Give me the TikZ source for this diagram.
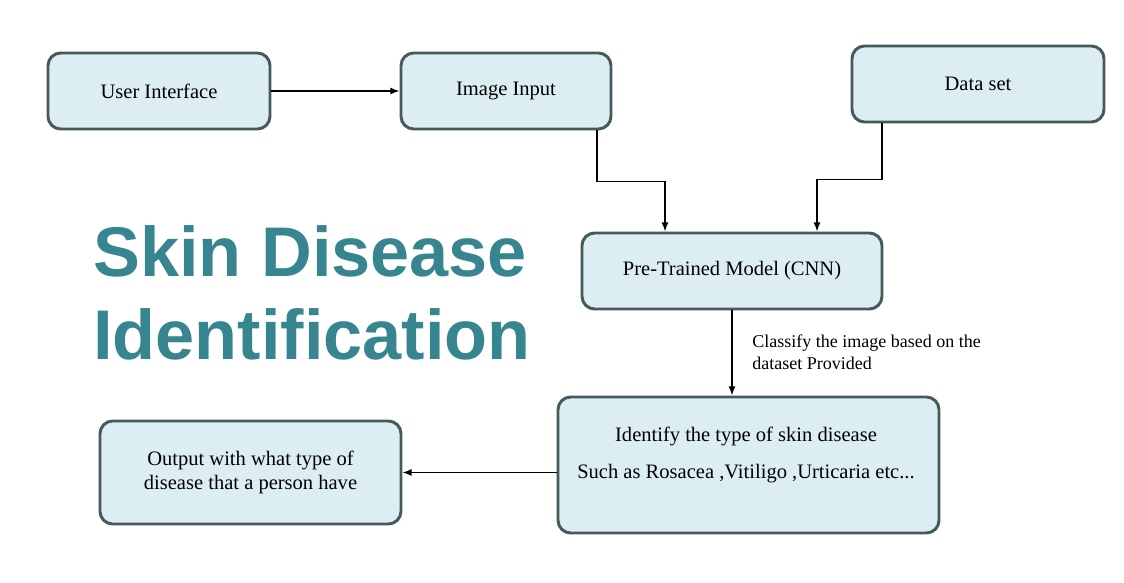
\documentclass[tikz,border=0pt]{standalone}
\usepackage{fontspec}
\setmainfont{Liberation Serif}
\newfontfamily\titlefont{Liberation Sans}
\usetikzlibrary{arrows.meta, positioning, calc}
\definecolor{boxFill}{HTML}{DCEEF1}
\definecolor{boxLine}{HTML}{465A5E}
\definecolor{titleTeal}{HTML}{37858F}

\begin{document}
\begin{tikzpicture}[x=0.025cm, y=-0.025cm,
    box/.style 2 args={draw=boxLine, fill=boxFill, line width=2.1pt, rounded corners=9pt,
        minimum width=#1*0.025cm, minimum height=#2*0.025cm, align=center,
        font=\fontsize{14.6}{17.6}\selectfont},
    arr/.style={line width=1pt, -{Latex[length=6.5pt, width=5pt]}}]
    \useasboundingbox (0,0) rectangle (1124,583);

    % top row
    \node[box={222}{76}] (ui) at (159, 91) {User Interface};
    \node[box={210}{76}] (img) at (506, 91) {Image Input};
    \node[box={252}{76}] (data) at (978, 84) {Data set};

    % model and result
    \node[box={300}{76}] (cnn) at (732, 271) {Pre-Trained Model (CNN)};
    \node[box={381}{136}] (idf) at (748.5, 465) {};
    \node[align=center, font=\fontsize{14.6}{17.6}\selectfont] (idftxt) at (746, 455)
        {Identify the type of skin disease\\[8.5pt]Such as Rosacea ,Vitiligo ,Urticaria etc...};
    \node[box={301}{103}] (out) at (250.5, 472.5) {Output with what type of\\disease that a person have};

    % title
    \node[anchor=west, inner sep=0pt, align=left, text=titleTeal,
        font=\titlefont\bfseries\fontsize{50}{59}\selectfont] (title) at (93, 293)
        {Skin Disease\\Identification};

    % connectors
    \draw[arr] (ui.east) -- (img.west);
    \draw[arr] ($(img.south)+(91,0)$) -- ++(0,51) -| ($(cnn.north)+(-67,0)$);
    \draw[arr] ($(data.south)+(-96,0)$) -- ++(0,56) -| ($(cnn.north)+(85,0)$);
    \draw[arr] (cnn.south) -- (idf.north -| cnn.south);
    \draw[arr] (idf.west |- out.east) -- (out.east);

    \node[anchor=west, inner sep=0pt, align=left, font=\fontsize{12.8}{15.5}\selectfont] (cls)
        at (752, 352) {Classify the image based on the\\dataset Provided};
\end{tikzpicture}
\end{document}
